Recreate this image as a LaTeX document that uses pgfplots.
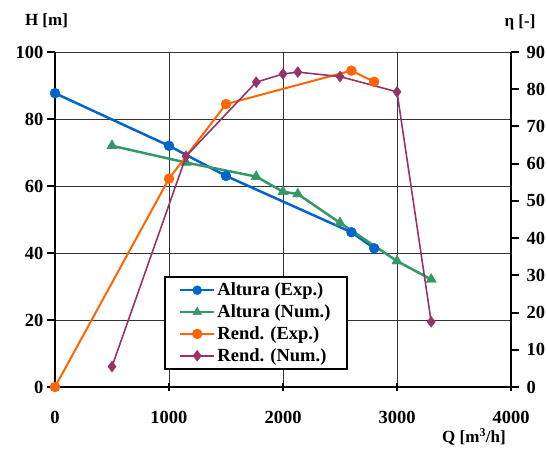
\documentclass[border=0pt]{standalone}
\usepackage{fontspec}
\setmainfont{Liberation Serif}
\usepackage{pgfplots}
\pgfplotsset{compat=1.18}
\definecolor{cblue}{HTML}{0066CC}
\definecolor{cgreen}{HTML}{339966}
\definecolor{corange}{HTML}{FF6600}
\definecolor{cpurple}{HTML}{993366}

\begin{document}
\begin{tikzpicture}
\path[use as bounding box] (-55pt,-66pt) rectangle (492pt,387pt);
\pgfplotsset{
  common/.style={
    scale only axis, width=456pt, height=335pt,
    at={(0pt,0pt)}, anchor=south west,
    xmin=0, xmax=4000,
    clip=false,
    /pgf/number format/assume math mode=true,
    /pgf/number format/1000 sep={},
    xticklabel={\pgfmathprintnumber[assume math mode=true]{\tick}},
    yticklabel={\pgfmathprintnumber[assume math mode=true]{\tick}},
    tick label style={font=\fontsize{18.5}{20}\selectfont\bfseries},
    axis line style={line width=2pt,-},
    major tick style={line width=2pt,black},
    major tick length=8pt,
  }
}
\begin{axis}[common,
  axis x line*=bottom, axis y line*=left,
  ymin=0, ymax=100,
  xtick={0,1000,...,4000}, ytick={0,20,...,100},
  xtick align=center, ytick align=outside,
  xticklabel style={yshift=-17pt},
  grid=major, major grid style={black!80,line width=0.9pt},
]
\addplot[cblue, line width=2.5pt, mark=*, mark size=5pt, mark options={solid,line width=0.4pt}]
  coordinates {(0,87.7)(1000,72)(1500,63)(2600,46.2)(2800,41.4)};
\addplot[cgreen, line width=2.5pt, mark=triangle*, mark size=6pt, mark options={solid,line width=0.4pt}]
  coordinates {(500,72)(1150,67)(1765,62.8)(2000,58.3)(2130,57.6)(2500,49)(3000,37.6)(3300,32.1)};
\end{axis}
\begin{axis}[common,
  axis x line=none, axis y line*=right,
  ymin=0, ymax=90, ytick={0,10,...,90},
  ytick align=outside,
  yticklabel style={xshift=4pt},
  legend cell align=left,
  legend image code/.code={\draw[mark repeat=2,mark phase=2] plot coordinates {(0pt,0pt)(17pt,0pt)(34pt,0pt)};},
  legend style={at={(0.239,0.051)}, anchor=south west, draw=black, line width=2pt,
    font=\fontsize{18.5}{19}\selectfont\bfseries, inner xsep=14pt, inner ysep=4pt, row sep=3.5pt},
]
\addlegendimage{cblue, line width=2.5pt, mark=*, mark size=4.5pt, mark options={solid,line width=0.4pt}}
\addlegendentry{Altura (Exp.)}
\addlegendimage{cgreen, line width=2.5pt, mark=triangle*, mark size=5pt, mark options={solid,line width=0.4pt}}
\addlegendentry{Altura (Num.)}
\addplot[corange, line width=2pt, mark=*, mark size=5pt, mark options={solid,line width=0.4pt}]
  coordinates {(0,0)(1000,56)(1500,76)(2600,85)(2800,82)};
\addlegendentry{Rend. (Exp.)}
\addplot[cpurple, line width=1.6pt, mark=diamond*, mark size=5.5pt, mark options={solid,line width=0.4pt}]
  coordinates {(500,5.5)(1150,62)(1765,81.9)(2000,84.1)(2130,84.6)(2500,83.4)(3000,79.3)(3300,17.5)};
\addlegendentry{Rend. (Num.)}
\end{axis}
\node[font=\fontsize{17}{20}\selectfont\bfseries] at (-8.5pt,366pt) {H [m]};
\node[font=\fontsize{17}{20}\selectfont\bfseries] at (465pt,365pt) {η [-]};
\node[font=\fontsize{17}{20}\selectfont\bfseries] at (419pt,-50pt) {Q [m\textsuperscript{3}/h]};
\end{tikzpicture}
\end{document}
